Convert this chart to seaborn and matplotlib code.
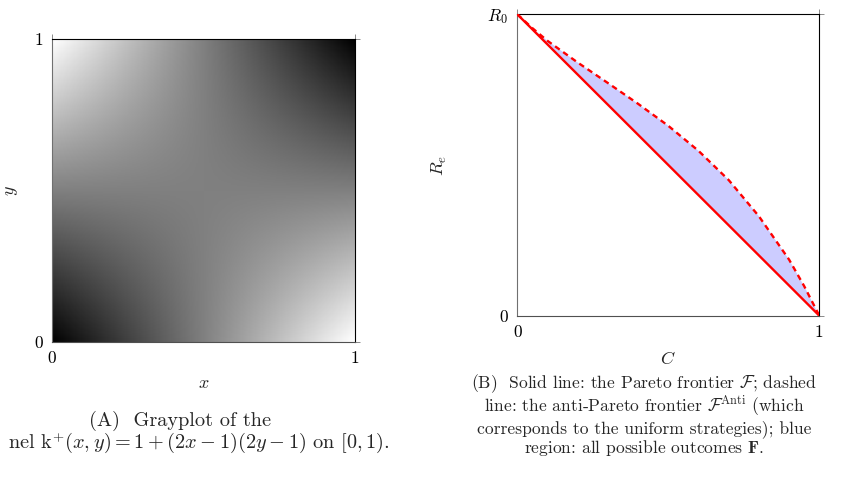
import numpy as np
import pandas as pd
import matplotlib
matplotlib.use("Agg")
import matplotlib.pyplot as plt
import seaborn as sns

# ---------------- data ----------------
# panel A: kernel k+(x,y) = 1 + (2x-1)(2y-1) on [0,1)
grid_n = 256
x_ticks = [0, 1]
y_ticks = [0, 1]
# panel B: Pareto frontier (solid) and anti-Pareto frontier (dashed)
pareto_C = [0.0, 1.0]
pareto_R = [1.0, 0.0]
anti_C = [0.0, 0.05, 0.10, 0.20, 0.30, 0.40, 0.50, 0.60, 0.70, 0.80, 0.90, 0.95, 1.0]
anti_R = [1.0, 0.954, 0.912, 0.840, 0.772, 0.703, 0.630, 0.547, 0.450, 0.330, 0.186, 0.098, 0.0]
b_xtick_labels = ["0", "1"]
b_ytick_labels = ["0", "$R_0$"]

# caption A is clipped at the left page edge in the reference ("...nel k+")
capA = ["(A)  Grayplot of the",
        r"nel $\mathrm{k}^{+}(x,y) = 1 + (2x-1)(2y-1)$ on $[0,1)$."]
capB = ["(B)  Solid line: the Pareto frontier $\\mathcal{F}$; dashed",
        "line: the anti-Pareto frontier $\\mathcal{F}^{\\mathrm{Anti}}$ (which",
        "corresponds to the uniform strategies); blue",
        "region: all possible outcomes $\\mathbf{F}$."]

# ---------------- style ----------------
sns.set_theme(style="white")
plt.rcParams["font.family"] = ["cmr10", "DejaVu Serif"]
plt.rcParams["mathtext.fontset"] = "cm"
plt.rcParams["axes.unicode_minus"] = False
plt.rcParams["axes.formatter.use_mathtext"] = True

FS = 12.5      # ticks / axis labels
CFSA = 14.6    # caption A
CFSB = 12.6    # caption B
fig = plt.figure(figsize=(8.52, 4.84), dpi=100)
W, H = 852, 484

def px_axes(x0, y0, x1, y1):
    return fig.add_axes([x0 / W, 1 - y1 / H, (x1 - x0) / W, (y1 - y0) / H])

def style_ticks(ax):
    ax.tick_params(axis="both", which="both", direction="inout", length=7,
                   width=0.7, color="#8a8a8a", top=True, right=True,
                   labeltop=False, labelright=False, labelsize=FS, pad=3,
                   labelcolor="black")
    for s in ax.spines.values():
        s.set_visible(True)
        s.set_linewidth(0.8)
        s.set_color("black")
    ax.spines["left"].set_color("#707070")
    ax.spines["bottom"].set_color("#505050")

# ---------------- panel A ----------------
axA = px_axes(52, 39, 355, 342)
centers = (np.arange(grid_n) + 0.5) / grid_n
XX, YY = np.meshgrid(centers, centers)
K = 1 + (2 * XX - 1) * (2 * YY - 1)
sns.heatmap(pd.DataFrame(K), ax=axA, cmap="gray_r", vmin=0, vmax=2,
            cbar=False, xticklabels=False, yticklabels=False, rasterized=True)
axA.set_ylim(0, grid_n)
axA.set_xlim(0, grid_n)
axA.set_xticks([t * grid_n for t in x_ticks])
axA.set_xticklabels([str(t) for t in x_ticks])
axA.set_yticks([t * grid_n for t in y_ticks])
axA.set_yticklabels([str(t) for t in y_ticks], rotation=0)
style_ticks(axA)
axA.set_xlabel("$x$", fontsize=13, labelpad=7)
axA.set_ylabel("$y$", fontsize=13, labelpad=10)

# ---------------- panel B ----------------
axB = px_axes(517.3, 14.3, 819.3, 315.7)
axB.fill(anti_C, anti_R, color="#ccccff", lw=0, zorder=1)
sns.lineplot(x=pareto_C, y=pareto_R, ax=axB, color="red", lw=1.7,
             sort=False, estimator=None, zorder=3)
sns.lineplot(x=anti_C, y=anti_R, ax=axB, color="red", lw=1.7,
             sort=False, estimator=None, zorder=3)
axB.lines[-1].set_dashes([2.4, 1.8])
axB.set_xlim(0, 1)
axB.set_ylim(0, 1)
axB.set_xticks([0, 1])
axB.set_xticklabels(b_xtick_labels)
axB.set_yticks([0, 1])
axB.set_yticklabels(b_ytick_labels)
style_ticks(axB)
axB.set_xlabel("$C$", fontsize=13, labelpad=7)
axB.set_ylabel("$R_e$", fontsize=13, labelpad=28)

# ---------------- captions ----------------
fig.text(180 / W, 1 - 421 / H, capA[0], ha="center", va="center", fontsize=CFSA)
fig.text(390 / W, 1 - 443 / H, capA[1], ha="right", va="center", fontsize=CFSA)
fig.text(644 / W, 1 - 415 / H, "\n".join(capB), ha="center", va="center",
         fontsize=CFSB, linespacing=1.02, multialignment="center")

fig.savefig("out.png", dpi=100)
